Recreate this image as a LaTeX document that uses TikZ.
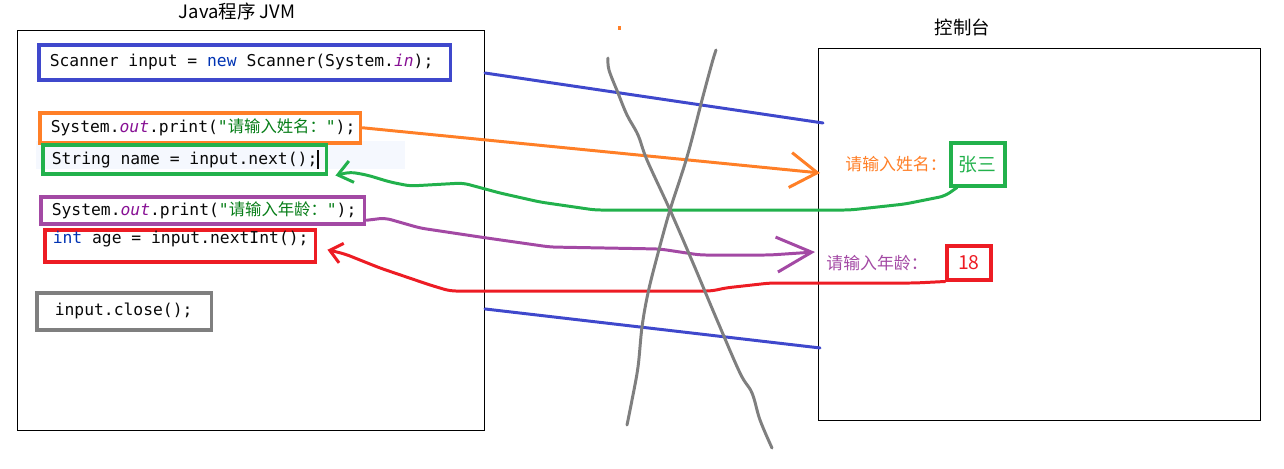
\documentclass[tikz,border=0pt]{standalone}
\usepackage{fontspec}
\usetikzlibrary{positioning,arrows.meta}
\newfontfamily\cjk{Noto Sans CJK SC}
\newfontfamily\codefont[WordSpace={1,0,0}]{DejaVu Sans Mono}
\definecolor{cB}{HTML}{3F48CC}
\definecolor{cO}{HTML}{FF7F27}
\definecolor{cG}{HTML}{22B14C}
\definecolor{cP}{HTML}{A349A4}
\definecolor{cR}{HTML}{ED1C24}
\definecolor{cGr}{HTML}{7F7F7F}
\definecolor{cKw}{HTML}{0033B3}
\definecolor{cFld}{HTML}{871094}
\definecolor{cStr}{HTML}{067D17}
\definecolor{cCode}{HTML}{080808}
\definecolor{cHl}{HTML}{F5F8FE}
\tikzset{codebox/.style={
  shape=rectangle,
  draw=#1,
  line width=2pt,
  anchor=north west,
  align=flush left,
  inner xsep=0.22cm,
  inner ysep=0pt,
  font=\codefont\fontsize{9.3}{11}\selectfont,
  text=cCode,
  }
}
\tikzset{outbox/.style={
  shape=rectangle,
  draw=black,
  line width=0.6pt,
  anchor=north west,
  inner sep=0pt,
  }
}
\tikzset{ansbox/.style={
  shape=rectangle,
  draw=#1,
  line width=2pt,
  anchor=north west,
  inner sep=0pt,
  text=#1,
  }
}
\tikzset{prompt/.style={
  inner sep=0pt,
  text=#1,
  font=\cjk\fontsize{9.6}{11}\selectfont,
  }
}
\tikzset{pen/.style={
  draw=#1,
  line width=1.7pt,
  line cap=round,
  line join=round,
  rounded corners=0.12cm,
  }
}
\newcommand{\kw}[1]{\textcolor{cKw}{#1}}
\newcommand{\fld}[1]{\textcolor{cFld}{\itshape #1}}
\newcommand{\strlit}[1]{\textcolor{cStr}{"{\cjk #1}"}}

\begin{document}
\begin{tikzpicture}[x=0.02cm,y=-0.02cm]
  \useasboundingbox (0,0) rectangle (1284,468);

  % the two frames
  \node[outbox, minimum width=9.34cm, minimum height=8cm] (jvm) at (17,30) {};
  \node[outbox, minimum width=8.84cm, minimum height=7.44cm] (con) at (818,48) {};
  \node[above=2pt of jvm.north, xshift=-0.28cm, font=\cjk\fontsize{10.5}{12}\selectfont] (jvmtitle) {Java程序 JVM};
  \node[above=3.5pt of con.north, xshift=-1.54cm, font=\cjk\fontsize{10.5}{12}\selectfont] (contitle) {控制台};

  % code lines
  \fill[cHl] (36,141) rectangle (405,169);
  \node[codebox=cB, minimum width=8.24cm, minimum height=0.7cm, text width=7.8cm] (scan) at (37,43)
    {\mbox{Scanner input = \kw{new} Scanner(System.\fld{in});}};
  \node[codebox=cO, minimum width=6.42cm, minimum height=0.6cm, text width=5.98cm] (askname) at (38,111)
    {\mbox{System.\fld{out}.print(\strlit{请输入姓名：});}};
  \node[codebox=cG, inner xsep=0.18cm, minimum width=5.68cm, minimum height=0.58cm, text width=5.32cm] (readname) at (41,143)
    {\mbox{String name = input.next();\rule[-0.25em]{0.7pt}{1.15em}}};
  \node[codebox=cP, minimum width=6.48cm, minimum height=0.54cm, text width=6.04cm] (askage) at (39,195)
    {\mbox{System.\fld{out}.print(\strlit{请输入年龄：});}};
  \node[codebox=cR, inner xsep=0.16cm, minimum width=5.42cm, text width=5.1cm, text height=0.28cm, text depth=0.36cm] (readage) at (43,228)
    {\mbox{\kw{int} age = input.nextInt();}};
  \node[codebox=cGr, inner xsep=0.36cm, minimum width=3.5cm, minimum height=0.74cm, text width=2.78cm] (closein) at (35,291)
    {\mbox{input.close();}};

  % console
  \node[ansbox=cG, minimum width=1.08cm, minimum height=0.86cm, font=\cjk\fontsize{10.7}{12}\selectfont] (zs) at (949,141) {张三};
  \node[prompt=cO, left=0.04cm of zs] (nameprompt) {请输入姓名：};
  \node[ansbox=cR, minimum width=0.88cm, minimum height=0.68cm, font=\cjk\fontsize{11}{12}\selectfont] (age18) at (945,244) {18};
  \node[prompt=cP, left=0.34cm of age18] (ageprompt) {请输入年龄：};

  % pen strokes
  \draw[pen=cB] ([yshift=-0.86cm]jvm.north east) -- ([shift={(0.1cm,-1.5cm)}]con.north west);
  \draw[pen=cB] ([yshift=-5.58cm]jvm.north east) -- ([shift={(0.04cm,-6cm)}]con.north west);
  \draw[pen=cO, -{Straight Barb[length=0.54cm,width=0.7cm]}] (askname.east) -- ([shift={(0.04cm,-2.5cm)}]con.north west);
  \draw[pen=cG, -{Straight Barb[length=0.28cm,width=0.44cm]}] ([xshift=0.16cm]zs.south west) -- (945,196) -- (905,204) -- (850,210)
    -- (595,210) -- (540,202) -- (500,193) -- (463,183) -- (410,186) -- (390,182) -- (367,175) -- (350,172)
    -- ([xshift=0.14cm]readname.south east);
  \draw[pen=cP, -{Straight Barb[length=0.7cm,width=0.7cm]}] ([yshift=-0.2cm]askage.east) -- (385,218) -- (420,228) -- (480,237)
    -- (550,247) -- (660,249) -- (700,255) -- (770,255) -- ([shift={(-0.06cm,-4.08cm)}]con.north west);
  \draw[pen=cR, -{Straight Barb[length=0.24cm,width=0.4cm]}] (age18.south west) -- (935,282) -- (915,283) -- (770,283)
    -- (725,288) -- (712,291) -- (450,291) -- (430,285) -- (380,268) -- (345,254)
    -- ([shift={(0.2cm,-0.08cm)}]readage.east);

  % crossing strokes
  \draw[cGr, line width=1.7pt, line cap=round] plot[smooth, tension=0.6] coordinates {(608,58) (609,70) (618,93) (627,115) (638,135) (647,160) (670,210) (693,263) (717,320) (740,373) (752,393) (760,420) (772,448)};
  \draw[cGr, line width=1.7pt, line cap=round] plot[smooth, tension=0.6] coordinates {(716,50) (712,63) (702,100) (687,157) (670,210) (657,257) (648,293) (642,327) (638,367) (632,400) (627,425)};
  \fill[cO] (617.5,26) rectangle (620.5,29.5);
\end{tikzpicture}
\end{document}
